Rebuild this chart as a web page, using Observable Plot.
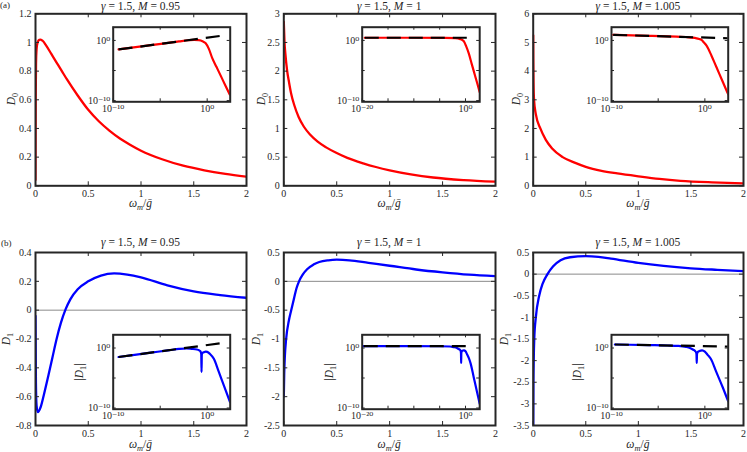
<!DOCTYPE html>
<html><head><meta charset="utf-8">
<script src="https://cdn.jsdelivr.net/npm/d3@7"></script>
<script src="https://cdn.jsdelivr.net/npm/@observablehq/plot@0.6"></script>
<style>
body{margin:0;background:#fff;}
#fig{position:relative;width:747px;height:452px;overflow:hidden;font-family:'Liberation Serif','DejaVu Serif',serif;color:#262626;background:#fff;}
#fig svg{position:absolute;left:0;top:0;}
.lab{position:absolute;white-space:nowrap;transform:translate(-50%,-50%);line-height:1;}
.lab.rot{transform:translate(-50%,-50%) rotate(-90deg);}
.lab.left{transform:translate(0,-50%);}
.lab sub{font-size:72%;vertical-align:-0.3em;line-height:0;}
.lab i{font-style:italic;}
</style></head><body><div id="fig"></div><script>
// ---------- text ----------
const gammaValue = "1.5";
const mValues = ["0.95", "1", "1.005"];
const panelLetters = ["(a)", "(b)"];

// ---------- main-axis ticks ----------
const xTicksMain = [0, 0.5, 1, 1.5, 2];
const yTicksA1 = [0, 0.2, 0.4, 0.6, 0.8, 1, 1.2];
const yTicksA2 = [0, 0.5, 1, 1.5, 2, 2.5, 3];
const yTicksA3 = [0, 1, 2, 3, 4, 5, 6];
const yTicksB1 = [-0.8, -0.6, -0.4, -0.2, 0, 0.2, 0.4];
const yTicksB2 = [-2.5, -2, -1.5, -1, -0.5, 0, 0.5];
const yTicksB3 = [-3.5, -3, -2.5, -2, -1.5, -1, -0.5, 0, 0.5];

// ---------- D0 (top row), x = omega_m / gbar ----------
const d0X_095 = [0, 0.002, 0.005, 0.01, 0.02, 0.035, 0.05, 0.07, 0.1, 0.15, 0.2, 0.25, 0.3, 0.4, 0.5, 0.6, 0.7, 0.8, 0.9, 1.0, 1.2, 1.4, 1.6, 1.8, 2.0];
const d0Y_095 = [0.04, 0.6, 0.85, 0.95, 1.0, 1.018, 1.02, 1.01, 0.98, 0.92, 0.86, 0.80, 0.74, 0.63, 0.53, 0.45, 0.385, 0.33, 0.285, 0.245, 0.185, 0.14, 0.108, 0.083, 0.063];
const d0X_1 = [0, 0.007, 0.015, 0.032, 0.05, 0.068, 0.1, 0.14, 0.19, 0.25, 0.32, 0.4, 0.49, 0.6, 0.75, 0.87, 1.0, 1.2, 1.41, 1.7, 2.0];
const d0Y_1 = [2.86, 2.5, 2.3, 2.0, 1.8, 1.62, 1.4, 1.2, 1.03, 0.89, 0.77, 0.67, 0.58, 0.487, 0.392, 0.328, 0.27, 0.2, 0.145, 0.1, 0.072];
const d0X_1005 = [0, 0.001, 0.003, 0.008, 0.025, 0.068, 0.12, 0.18, 0.28, 0.4, 0.5, 0.65, 0.8, 1.0, 1.2, 1.4, 1.7, 2.0];
const d0Y_1005 = [5.25, 4.4, 3.6, 3.0, 2.5, 2.0, 1.6, 1.3, 1.0, 0.8, 0.66, 0.52, 0.43, 0.33, 0.24, 0.175, 0.12, 0.085];

// ---------- D1 (bottom row) ----------
const d1X_095 = [0, 0.004, 0.01, 0.022, 0.05, 0.08, 0.12, 0.16, 0.2, 0.24, 0.285, 0.33, 0.4, 0.5, 0.62, 0.745, 0.87, 1.0, 1.25, 1.5, 1.75, 2.0];
const d1Y_095 = [-0.04, -0.5, -0.66, -0.707, -0.67, -0.585, -0.46, -0.33, -0.2, -0.09, 0.005, 0.075, 0.145, 0.2, 0.24, 0.255, 0.247, 0.228, 0.172, 0.13, 0.105, 0.086];
const d1X_1 = [0, 0.004, 0.01, 0.022, 0.048, 0.07, 0.096, 0.12, 0.144, 0.18, 0.22, 0.28, 0.335, 0.42, 0.5, 0.62, 0.8, 1.0, 1.25, 1.5, 1.75, 2.0];
const d1Y_1 = [-2.0, -1.6, -1.3, -1.0, -0.68, -0.5, -0.3, -0.12, 0, 0.12, 0.21, 0.29, 0.335, 0.365, 0.375, 0.365, 0.32, 0.27, 0.205, 0.155, 0.115, 0.09];
const d1X_1005 = [0, 0.002, 0.005, 0.01, 0.025, 0.057, 0.09, 0.136, 0.19, 0.26, 0.35, 0.5, 0.62, 0.74, 1.0, 1.24, 1.5, 1.75, 2.0];
const d1Y_1005 = [-3.8, -2.6, -2.0, -1.5, -1.0, -0.5, -0.22, 0, 0.18, 0.32, 0.39, 0.415, 0.4, 0.36, 0.26, 0.19, 0.135, 0.1, 0.07];

// ---------- insets: log10 values ----------
const insX_a1 = [-9.43, -6, -3, -2, -1.4, -0.9, -0.5, -0.18, 0.18, 0.53, 1.0, 1.5, 2.0, 2.4];
const insY_a1 = [-1.5, -0.79, -0.16, 0.03, 0.1, 0.05, -0.12, -0.44, -1.4, -2.9, -4.43, -6.06, -7.7, -9.0];
const asymX_a1 = [-9.43, 1.52];
const asymY_a1 = [-1.5, 0.78];

const insX_a2 = [-19.5, -10, -4, -2, -1.0, -0.32, 0.1, 0.65, 1.2, 1.8, 2.3, 2.75];
const insY_a2 = [0.45, 0.45, 0.44, 0.38, 0.22, -0.13, -0.9, -2.2, -3.9, -5.7, -7.2, -8.6];
const asymX_a2 = [-19.5, 1.0];
const asymY_a2 = [0.45, 0.45];

const insX_a3 = [-9.82, -6, -3, -2, -1.07, -0.6, -0.36, -0.1, 0.18, 0.71, 1.2, 1.8, 2.5];
const insY_a3 = [0.93, 0.76, 0.62, 0.57, 0.42, 0.25, 0.09, -0.35, -0.87, -2.54, -4.3, -6.45, -8.96];
const asymX_a3 = [-9.82, 2.5];
const asymY_a3 = [0.93, 0.36];

const insX_b1 = [-9.43, -6, -4, -3, -2.2, -1.66, -1.1, -0.85, -0.7, -0.63, -0.6, -0.57, -0.5, -0.35, -0.15, 0, 0.3, 0.71, 1.2, 1.8, 2.43];
const insY_b1 = [-1.5, -0.78, -0.36, -0.16, -0.08, -0.15, -0.25, -0.4, -0.6, -1.0, -4.0, -1.1, -0.85, -0.7, -0.6, -0.64, -1.0, -1.8, -3.8, -6.35, -9.0];
const asymX_b1 = [-9.43, 1.55];
const asymY_b1 = [-1.5, 0.82];

const insX_b2 = [-19.7, -10, -5, -3, -2.3, -1.66, -1.32, -1.02, -0.92, -0.87, -0.84, -0.81, -0.75, -0.66, -0.47, -0.3, 0, 0.3, 0.65, 1.0, 1.6, 2.2, 2.75];
const insY_b2 = [0.3, 0.3, 0.29, 0.25, 0.15, 0, -0.17, -0.35, -0.55, -0.9, -2.5, -0.9, -0.6, -0.5, -0.42, -0.4, -0.55, -1.05, -1.7, -2.6, -4.9, -7.2, -9.3];
const asymX_b2 = [-19.7, 0.84];
const asymY_b2 = [0.3, 0.3];

const insX_b3 = [-9.64, -6, -4, -2.96, -2.0, -1.6, -1.24, -1.05, -0.95, -0.9, -0.87, -0.84, -0.78, -0.58, -0.3, 0, 0.3, 0.65, 1.2, 1.9, 2.5];
const insY_b3 = [0.58, 0.48, 0.42, 0.36, 0.18, 0.0, -0.3, -0.5, -0.7, -1.0, -2.5, -1.0, -0.7, -0.5, -0.38, -0.59, -1.15, -1.83, -3.9, -6.5, -8.9];
const asymX_b3 = [-9.64, 2.5];
const asymY_b3 = [0.58, 0.24];

// inset axis exponents
const insTickExpA = [-10, -5, 0];
const insTickExpMid = [-20, -15, -10, -5, 0];
const insLabelExpA = [-10, 0];
const insLabelExpMid = [-20, 0];
const insYTickExp = [-10, -5, 0];
const insYLabelExp = [-10, 0];

// ---------- drawing ----------
const W = 747, H = 452;
const ink = "#262626";
const red = "#ff0000", blue = "#0000ff";
const fig = document.getElementById("fig");
const baseStyle = {fontFamily: "'Liberation Serif','DejaVu Serif',serif", fontSize: "10px", color: ink, background: "transparent", overflow: "visible"};

const rows = (xs, ys) => xs.map((x, i) => ({x, y: ys[i]}));
const logRows = (xs, ys) => xs.map((x, i) => ({x: 10 ** x, y: 10 ** ys[i]}));
const supDigits = "⁰¹²³⁴⁵⁶⁷⁸⁹";
const pow10Label = d => {
  const e = Math.round(Math.log10(d));
  return "10" + String(e).replace("-", "⁻").replace(/\d/g, c => supDigits[+c]);
};

function mainPanel(box, yDomain, yTicks, data, color, zeroLine) {
  const [L, T, R, B] = box;
  const fh = B - T, fw = R - L, tk = 4;
  const marks = [];
  if (zeroLine) marks.push(Plot.ruleY([0], {stroke: "#8a8a8a", strokeWidth: 1}));
  marks.push(Plot.line(data, {x: "x", y: "y", stroke: color, strokeWidth: 2.3, curve: "monotone-x", clip: true}));
  marks.push(Plot.tickX(xTicksMain, {x: d => d, stroke: ink, strokeWidth: 1, insetBottom: fh - tk}));
  marks.push(Plot.tickX(xTicksMain, {x: d => d, stroke: ink, strokeWidth: 1, insetTop: fh - tk}));
  marks.push(Plot.tickY(yTicks, {y: d => d, stroke: ink, strokeWidth: 1, insetRight: fw - tk}));
  marks.push(Plot.tickY(yTicks, {y: d => d, stroke: ink, strokeWidth: 1, insetLeft: fw - tk}));
  marks.push(Plot.axisX({ticks: xTicksMain, tickSize: 0, tickPadding: 4, tickFormat: d => String(d), label: null}));
  marks.push(Plot.axisY({ticks: yTicks, tickSize: 0, tickPadding: 4, tickFormat: d => String(d), label: null}));
  marks.push(Plot.frame({stroke: ink, strokeWidth: 2}));
  return Plot.plot({
    width: W, height: H,
    marginLeft: L, marginTop: T, marginRight: W - R, marginBottom: H - B,
    x: {domain: [0, 2]}, y: {domain: yDomain},
    style: baseStyle, marks
  });
}

function insetPanel(box, xExp, xTickExp, xLabelExp, data, asym, color) {
  const [L, T, R, B] = box;
  const fh = B - T, fw = R - L, tk = 3;
  const xT = xTickExp.map(e => 10 ** e), xL = xLabelExp.map(e => 10 ** e);
  const yT = insYTickExp.map(e => 10 ** e), yL = insYLabelExp.map(e => 10 ** e);
  const marks = [
    Plot.frame({fill: "white", stroke: "none"}),
    Plot.line(data, {x: "x", y: "y", stroke: color, strokeWidth: 2.2, curve: "monotone-x", clip: true}),
    Plot.line(asym, {x: "x", y: "y", stroke: "#000", strokeWidth: 2.2, strokeDasharray: "14,8", strokeLinecap: "butt", clip: true}),
    Plot.tickX(xT, {x: d => d, stroke: ink, strokeWidth: 1, insetBottom: fh - tk}),
    Plot.tickX(xT, {x: d => d, stroke: ink, strokeWidth: 1, insetTop: fh - tk}),
    Plot.tickY(yT, {y: d => d, stroke: ink, strokeWidth: 1, insetRight: fw - tk}),
    Plot.tickY(yT, {y: d => d, stroke: ink, strokeWidth: 1, insetLeft: fw - tk}),
    Plot.axisX({ticks: xL, tickSize: 0, tickPadding: 3, tickFormat: pow10Label, label: null}),
    Plot.axisY({ticks: yL, tickSize: 0, tickPadding: 3, tickFormat: pow10Label, label: null}),
    Plot.frame({stroke: ink, strokeWidth: 2})
  ];
  return Plot.plot({
    width: W, height: H,
    marginLeft: L, marginTop: T, marginRight: W - R, marginBottom: H - B,
    x: {type: "log", domain: [10 ** xExp[0], 10 ** xExp[1]]},
    y: {type: "log", domain: [10 ** -10.2, 10 ** 2.2]},
    style: baseStyle, marks
  });
}

const colsMain = [[35, 246], [283.3, 495], [532.7, 743]];
const rowTop = [13.3, 185.3], rowBot = [252, 425];
const colsInset = [[112.7, 229.7], [361.7, 479.2], [611, 727.7]];
const insTop = [26.7, 101.3], insBot = [334.3, 408.7];

const box = (c, r) => [c[0], r[0], c[1], r[1]];

const mains = [
  mainPanel(box(colsMain[0], rowTop), [0, 1.2], yTicksA1, rows(d0X_095, d0Y_095), red, false),
  mainPanel(box(colsMain[1], rowTop), [0, 3], yTicksA2, rows(d0X_1, d0Y_1), red, false),
  mainPanel(box(colsMain[2], rowTop), [0, 6], yTicksA3, rows(d0X_1005, d0Y_1005), red, false),
  mainPanel(box(colsMain[0], rowBot), [-0.8, 0.4], yTicksB1, rows(d1X_095, d1Y_095), blue, true),
  mainPanel(box(colsMain[1], rowBot), [-2.5, 0.5], yTicksB2, rows(d1X_1, d1Y_1), blue, true),
  mainPanel(box(colsMain[2], rowBot), [-3.5, 0.5], yTicksB3, rows(d1X_1005, d1Y_1005), blue, true)
];
const insets = [
  insetPanel(box(colsInset[0], insTop), [-10, 2.45], insTickExpA, insLabelExpA, logRows(insX_a1, insY_a1), logRows(asymX_a1, asymY_a1), red),
  insetPanel(box(colsInset[1], insTop), [-20, 2.75], insTickExpMid, insLabelExpMid, logRows(insX_a2, insY_a2), logRows(asymX_a2, asymY_a2), red),
  insetPanel(box(colsInset[2], insTop), [-10, 2.5], insTickExpA, insLabelExpA, logRows(insX_a3, insY_a3), logRows(asymX_a3, asymY_a3), red),
  insetPanel(box(colsInset[0], insBot), [-10, 2.45], insTickExpA, insLabelExpA, logRows(insX_b1, insY_b1), logRows(asymX_b1, asymY_b1), blue),
  insetPanel(box(colsInset[1], insBot), [-20, 2.75], insTickExpMid, insLabelExpMid, logRows(insX_b2, insY_b2), logRows(asymX_b2, asymY_b2), blue),
  insetPanel(box(colsInset[2], insBot), [-10, 2.5], insTickExpA, insLabelExpA, logRows(insX_b3, insY_b3), logRows(asymX_b3, asymY_b3), blue)
];
mains.forEach(s => fig.appendChild(s));
insets.forEach(s => fig.appendChild(s));

function label(html, x, y, size, cls) {
  const d = document.createElement("div");
  d.className = "lab" + (cls ? " " + cls : "");
  d.innerHTML = html;
  d.style.left = x + "px";
  d.style.top = y + "px";
  d.style.fontSize = size + "px";
  fig.appendChild(d);
}

const xLabelHtml = "<i>ω</i><sub><i>m</i></sub>/<i>ḡ</i>";
const d0Html = "<i>D</i><sub>0</sub>";
const d1Html = "<i>D</i><sub>1</sub>";
const absD1Html = "|<i>D</i><sub>1</sub>|";
const d0LabelX = [11.7, 261.7, 517];
const d1LabelX = [7, 257.3, 505.3];
const absLabelX = [80, 330, 578];

colsMain.forEach((c, i) => {
  const cx = (c[0] + c[1]) / 2;
  const title = `<i>γ</i> = ${gammaValue}, <i>M</i> = ${mValues[i]}`;
  label(title, cx, 6.5, 11.5);
  label(title, cx, 243, 11.5);
  label(xLabelHtml, cx, 203.5, 11.5);
  label(xLabelHtml, cx, 445, 11.5);
  label(d0Html, d0LabelX[i], (rowTop[0] + rowTop[1]) / 2, 11.5, "rot");
  label(d1Html, d1LabelX[i], (rowBot[0] + rowBot[1]) / 2, 11.5, "rot");
  label(absD1Html, absLabelX[i], (insBot[0] + insBot[1]) / 2, 11.5, "rot");
});
label(panelLetters[0], 0, 4.5, 9, "left");
label(panelLetters[1], 1, 242.5, 9, "left");
</script></body></html>
